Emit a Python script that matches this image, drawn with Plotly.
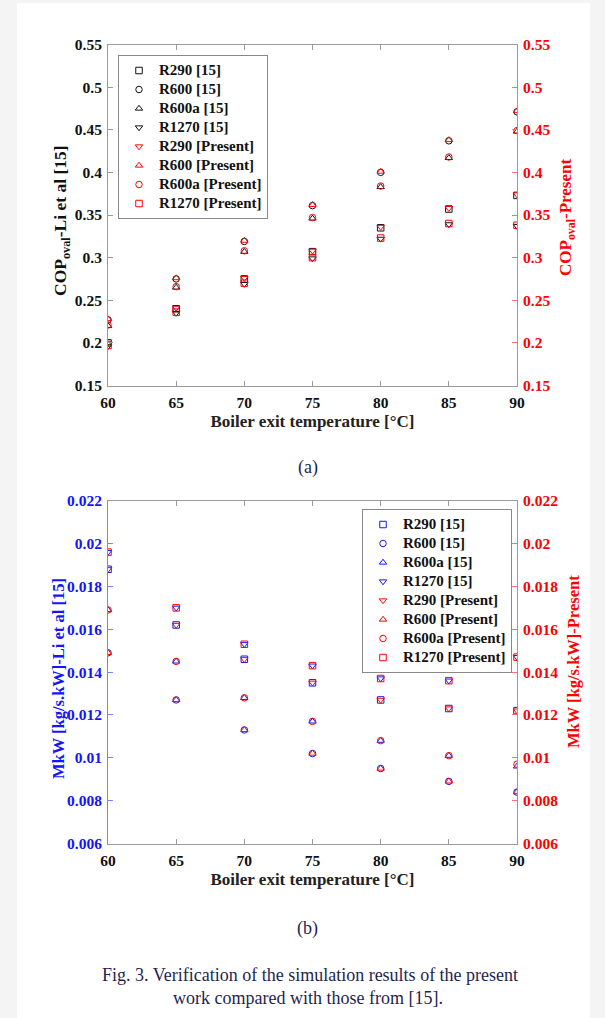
import plotly.graph_objects as go

W, H = 605, 1018

temps = [60, 65, 70, 75, 80, 85, 90]
refrigerants = ["R290", "R600", "R600a", "R1270"]

# (a) COP_oval, Li et al [15]
cop_li = {
    "R290":  [0.200, 0.240, 0.275, 0.307, 0.335, 0.357, 0.373],
    "R600":  [0.227, 0.275, 0.319, 0.361, 0.400, 0.437, 0.471],
    "R600a": [0.220, 0.265, 0.307, 0.346, 0.383, 0.417, 0.448],
    "R1270": [0.196, 0.235, 0.269, 0.299, 0.322, 0.339, 0.337],
}
# (a) COP_oval, present work
cop_present = {
    "R290":  [0.200, 0.241, 0.276, 0.308, 0.336, 0.358, 0.374],
    "R600":  [0.228, 0.276, 0.320, 0.362, 0.401, 0.438, 0.472],
    "R600a": [0.221, 0.266, 0.308, 0.347, 0.384, 0.418, 0.449],
    "R1270": [0.197, 0.236, 0.270, 0.300, 0.323, 0.340, 0.338],
}
# (b) MkW [kg/s.kW], Li et al [15]
mkw_li = {
    "R290":  [0.0188, 0.0162, 0.0146, 0.0135, 0.0127, 0.0123, 0.0122],
    "R600":  [0.0149, 0.0127, 0.0113, 0.0102, 0.0095, 0.0089, 0.0084],
    "R600a": [0.0169, 0.0145, 0.0128, 0.0117, 0.0108, 0.0101, 0.0096],
    "R1270": [0.0196, 0.0170, 0.0153, 0.0143, 0.0137, 0.0136, 0.0147],
}
# (b) MkW, present work
mkw_present = {
    "R290":  [0.0188, 0.0162, 0.0146, 0.0135, 0.0127, 0.0123, 0.0122],
    "R600":  [0.0149, 0.0127, 0.0113, 0.0102, 0.0095, 0.0089, 0.0084],
    "R600a": [0.0169, 0.0145, 0.0128, 0.0117, 0.0108, 0.0101, 0.0097],
    "R1270": [0.0196, 0.0170, 0.0153, 0.0143, 0.0137, 0.0136, 0.0147],
}

x_ticks = [60, 65, 70, 75, 80, 85, 90]
cop_ticks = [0.15, 0.2, 0.25, 0.3, 0.35, 0.4, 0.45, 0.5, 0.55]
cop_ticktext = ["0.15", "0.2", "0.25", "0.3", "0.35", "0.4", "0.45", "0.5", "0.55"]
mkw_ticks = [0.006, 0.008, 0.01, 0.012, 0.014, 0.016, 0.018, 0.02, 0.022]
mkw_ticktext = ["0.006", "0.008", "0.01", "0.012", "0.014", "0.016", "0.018", "0.02", "0.022"]

sym_li = {"R290": "square-open", "R600": "circle-open", "R600a": "triangle-up-open", "R1270": "triangle-down-open"}
sym_present = {"R290": "triangle-down-open", "R600": "triangle-up-open", "R600a": "circle-open", "R1270": "square-open"}

BLACK = "#111111"
RED = "#ff0000"
BLUE = "#1414ff"
FONT = "Liberation Serif"
MS = 6.5

fig = go.Figure()

def add(xa, ya, vals, sym, color, name, legend):
    fig.add_trace(go.Scatter(
        x=temps, y=vals, mode="markers", xaxis=xa, yaxis=ya, legend=legend,
        name=f'<span style="font-size:15px">{name}</span>',
        marker=dict(symbol=sym, size=MS, color=color, line=dict(width=1, color=color)),
    ))

for r in refrigerants:
    add("x", "y", cop_li[r], sym_li[r], BLACK, f"{r} [15]", "legend")
for r in refrigerants:
    add("x", "y2", cop_present[r], sym_present[r], RED, f"{r} [Present]", "legend")
for r in refrigerants:
    add("x2", "y3", mkw_li[r], sym_li[r], BLUE, f"{r} [15]", "legend2")
for r in refrigerants:
    add("x2", "y4", mkw_present[r], sym_present[r], RED, f"{r} [Present]", "legend2")

def px_x(p):
    return p / W

def px_y(p):
    return 1 - p / H

xdom = [px_x(108), px_x(517)]
top_dom = [px_y(385.5), px_y(44.5)]
bot_dom = [px_y(843.5), px_y(500.7)]

tickfont = dict(family=FONT, size=15.5, weight="bold", color=BLACK)
GRAY = "#9a9a9a"

xcommon = dict(range=[60, 90], tickvals=x_ticks, ticktext=[str(v) for v in x_ticks],
               ticks="inside", ticklen=5, tickcolor=GRAY, showline=True, linecolor=GRAY,
               linewidth=1, mirror="ticks", showgrid=False, zeroline=False, tickfont=tickfont,
               domain=xdom, ticklabelstandoff=3,
               title=dict(text="Boiler exit temperature [°C]", standoff=5,
                          font=dict(family=FONT, size=17, weight="bold", color="#222222")))

ycommon = dict(ticks="inside", ticklen=5, showline=True, linewidth=1, showgrid=False,
               zeroline=False, ticklabelstandoff=2)

legend_common = dict(xanchor="left", yanchor="top", bgcolor="white",
                     bordercolor="#888888", borderwidth=1, tracegroupgap=0,
                     font=dict(family=FONT, size=12, weight="bold", color=BLACK))

fig.update_layout(
    width=W, height=H, margin=dict(l=0, r=0, t=0, b=0, pad=0, autoexpand=False),
    paper_bgcolor="#f4f4f4", plot_bgcolor="white", showlegend=True,
    xaxis=dict(anchor="y", **xcommon),
    xaxis2=dict(anchor="y3", **xcommon),
    yaxis=dict(domain=top_dom, anchor="x", range=[0.15, 0.55], tickvals=cop_ticks, ticktext=cop_ticktext,
               tickcolor=GRAY, linecolor=GRAY, tickfont=tickfont, **ycommon),
    yaxis2=dict(overlaying="y", side="right", anchor="x", range=[0.15, 0.55], tickvals=cop_ticks,
                ticktext=cop_ticktext, tickcolor="#ff7070", linecolor="#ff7070",
                tickfont=dict(family=FONT, size=15.5, weight="bold", color=RED), **ycommon),
    yaxis3=dict(domain=bot_dom, anchor="x2", range=[0.006, 0.022], tickvals=mkw_ticks, ticktext=mkw_ticktext,
                tickcolor="#8080ff", linecolor="#8080ff",
                tickfont=dict(family=FONT, size=15.5, weight="bold", color=BLUE), **ycommon),
    yaxis4=dict(overlaying="y3", side="right", anchor="x2", range=[0.006, 0.022], tickvals=mkw_ticks,
                ticktext=mkw_ticktext, tickcolor="#ff7070", linecolor="#ff7070",
                tickfont=dict(family=FONT, size=15.5, weight="bold", color=RED), **ycommon),
    legend=dict(x=px_x(118), y=px_y(55), **legend_common),
    legend2=dict(x=px_x(362), y=px_y(509), **legend_common),
    shapes=[dict(type="rect", xref="paper", yref="paper", x0=px_x(17), x1=px_x(590), y0=0, y1=px_y(3),
                 fillcolor="white", line=dict(width=0), layer="below")],
)

def ann(text, xp, yp, size, color, angle=0, bold=True):
    fig.add_annotation(text=text, x=px_x(xp), y=px_y(yp), xref="paper", yref="paper",
                       showarrow=False, textangle=angle, xanchor="center", yanchor="middle",
                       font=dict(family=FONT, size=size, color=color, weight="bold" if bold else "normal"))

ann("COP<sub>oval</sub>-Li et al [15]", 61, 221, 17.5, BLACK, -90)
ann("COP<sub>oval</sub>-Present", 567, 218, 17, RED, -90)
ann("MkW [kg/s.kW]-Li et al [15]", 58, 679, 16.5, BLUE, -90)
ann("MkW [kg/s.kW]-Present", 573, 662, 16.5, RED, -90)

NAVY = "#1f1f4f"
ann("(a)", 308, 467, 18, NAVY, bold=False)
ann("(b)", 308, 928, 18, NAVY, bold=False)
ann("Fig. 3. Verification of the simulation results of the present", 310, 975, 18, NAVY, bold=False)
ann("work compared with those from [15].", 308, 998, 18, NAVY, bold=False)

fig.write_html("out.html",
               post_script="document.body.style.margin='0';document.body.style.overflow='hidden';")
